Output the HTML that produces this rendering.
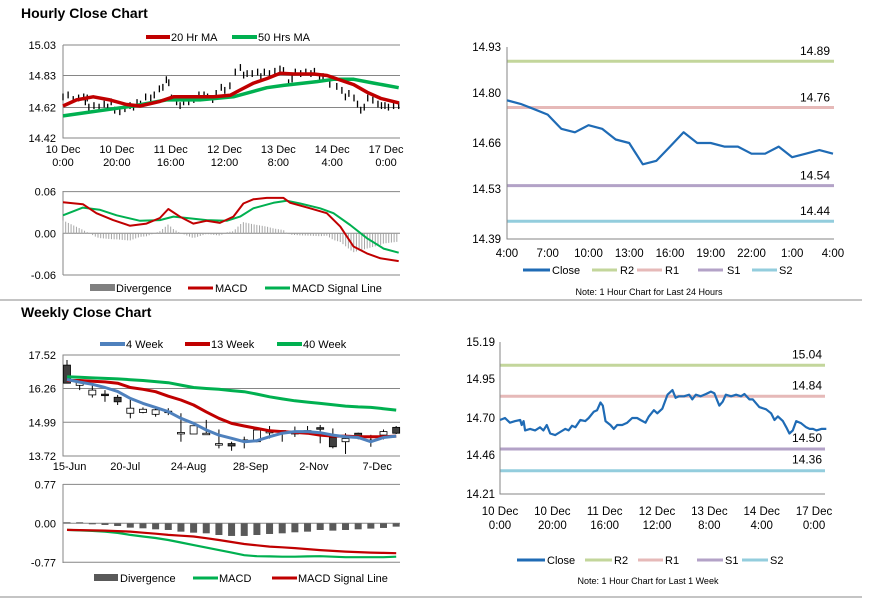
<!DOCTYPE html>
<html><head><meta charset="utf-8"><style>
html,body{margin:0;padding:0;background:#fff;}
svg{display:block;font-family:"Liberation Sans",Arial,sans-serif;}
</style></head><body>
<svg id="s" width="873" height="601" viewBox="0 0 873 601" xmlns="http://www.w3.org/2000/svg">
<rect x="0" y="0" width="873" height="601" fill="#fff"/>
<text x="21" y="18" font-size="14" font-weight="bold" fill="#000">Hourly Close Chart</text>
<text x="21" y="317" font-size="14" font-weight="bold" fill="#000">Weekly Close Chart</text>
<line x1="0" y1="300" x2="862" y2="300" stroke="#888" stroke-width="1"/>
<line x1="0" y1="597" x2="862" y2="597" stroke="#888" stroke-width="1"/>

<!-- TL legend -->
<g font-size="11">
<line x1="146" y1="37" x2="170" y2="37" stroke="#c00000" stroke-width="4"/>
<text x="171" y="41">20 Hr MA</text>
<line x1="232" y1="37" x2="257" y2="37" stroke="#00b050" stroke-width="4"/>
<text x="258" y="41">50 Hrs MA</text>
</g>
<g font-size="11">
<rect x="90" y="284" width="25" height="7" fill="#808080"/>
<text x="116" y="292">Divergence</text>
<line x1="188" y1="288" x2="213" y2="288" stroke="#c00000" stroke-width="3"/>
<text x="215" y="292">MACD</text>
<line x1="265" y1="288" x2="290" y2="288" stroke="#00b050" stroke-width="3"/>
<text x="292" y="292">MACD Signal Line</text>
</g>
<!-- BL legends -->
<g font-size="11">
<line x1="100" y1="344" x2="125" y2="344" stroke="#4f81bd" stroke-width="4"/>
<text x="126" y="348">4 Week</text>
<line x1="185" y1="344" x2="210" y2="344" stroke="#c00000" stroke-width="4"/>
<text x="211" y="348">13 Week</text>
<line x1="277" y1="344" x2="302" y2="344" stroke="#00b050" stroke-width="4"/>
<text x="303" y="348">40 Week</text>
</g>
<g font-size="11">
<rect x="94" y="574" width="24" height="7" fill="#595959"/>
<text x="120" y="582">Divergence</text>
<line x1="193" y1="578" x2="218" y2="578" stroke="#00b050" stroke-width="3"/>
<text x="219" y="582">MACD</text>
<line x1="272" y1="578" x2="297" y2="578" stroke="#c00000" stroke-width="3"/>
<text x="298" y="582">MACD Signal Line</text>
</g>
<!-- Right legends -->
<g font-size="11">
<line x1="523" y1="270" x2="550" y2="270" stroke="#1f6bb5" stroke-width="3"/>
<text x="552" y="274">Close</text>
<line x1="592" y1="270" x2="617" y2="270" stroke="#c3d69b" stroke-width="3"/>
<text x="620" y="274">R2</text>
<line x1="637" y1="270" x2="662" y2="270" stroke="#e6b9b8" stroke-width="3"/>
<text x="665" y="274">R1</text>
<line x1="698" y1="270" x2="723" y2="270" stroke="#b3a2c7" stroke-width="3"/>
<text x="727" y="274">S1</text>
<line x1="752" y1="270" x2="777" y2="270" stroke="#93cddd" stroke-width="3"/>
<text x="779" y="274">S2</text>
<text x="649" y="295" font-size="9" text-anchor="middle">Note: 1 Hour Chart for Last 24 Hours</text>
</g>
<g font-size="11">
<line x1="517" y1="560" x2="545" y2="560" stroke="#1f6bb5" stroke-width="3"/>
<text x="547" y="564">Close</text>
<line x1="585" y1="560" x2="612" y2="560" stroke="#c3d69b" stroke-width="3"/>
<text x="614" y="564">R2</text>
<line x1="638" y1="560" x2="663" y2="560" stroke="#e6b9b8" stroke-width="3"/>
<text x="665" y="564">R1</text>
<line x1="697" y1="560" x2="723" y2="560" stroke="#b3a2c7" stroke-width="3"/>
<text x="725" y="564">S1</text>
<line x1="742" y1="560" x2="768" y2="560" stroke="#93cddd" stroke-width="3"/>
<text x="770" y="564">S2</text>
<text x="648" y="584" font-size="9" text-anchor="middle">Note: 1 Hour Chart for Last 1 Week</text>
</g>
</svg>
<script>
// ---- shared hourly close (last week) ----
const weekHours = [0,1.9,3.8,5.8,7.7,8.3,9,9.6,11.5,13.4,15.3,16.6,17.9,19.2,21.1,23,24.9,26.2,27.5,28.8,30.7,32.6,33.9,35.8,37.1,38.4,39.3,40.3,42.2,43.5,44.8,46.7,48.6,50.5,52.4,53.7,55.6,56.9,58.8,60.1,62,64,65.9,67.1,68.4,70.3,72.3,73.5,74.8,76.7,78.7,80.6,81.9,83.8,85.1,86.3,88.3,90.2,92.1,93.4,95.3,96.6,99.1,101.7,103.6,104.9,106.2,108.1,109.4,110.6,111.9,113.2,115.1,117,118.3,119.6,120.9,122.8,124.7];
const weekClose = [14.687,14.70,14.67,14.68,14.687,14.655,14.68,14.62,14.63,14.62,14.64,14.62,14.655,14.60,14.59,14.61,14.63,14.62,14.65,14.64,14.687,14.68,14.70,14.74,14.75,14.80,14.78,14.68,14.655,14.63,14.655,14.655,14.67,14.70,14.70,14.687,14.67,14.71,14.75,14.73,14.76,14.85,14.88,14.83,14.84,14.84,14.85,14.82,14.85,14.84,14.855,14.87,14.86,14.78,14.805,14.85,14.84,14.85,14.84,14.855,14.82,14.82,14.77,14.756,14.73,14.687,14.71,14.68,14.64,14.60,14.62,14.68,14.666,14.64,14.63,14.63,14.62,14.63,14.63];
const hourTickHours = [0,20,40,60,80,100,120];
const hourTickLine1 = ["10 Dec","10 Dec","11 Dec","12 Dec","13 Dec","14 Dec","17 Dec"];
const hourTickLine2 = ["0:00","20:00","16:00","12:00","8:00","4:00","0:00"];
// MAs
const ma20Hours = [0,5,11.2,17.4,23.6,28.6,36,41,46,56,62.1,65.8,70.8,75.8,80.7,85.7,93.1,98.1,103.1,108,113,118,124.8];
const ma20Vals = [14.63,14.67,14.69,14.67,14.64,14.63,14.66,14.69,14.69,14.69,14.70,14.735,14.78,14.81,14.845,14.84,14.84,14.83,14.80,14.77,14.72,14.68,14.65];
const ma50Hours = [0,13.7,26.1,38.5,50.9,63.3,75.7,81.9,94.3,100.5,108,115.4,124.7];
const ma50Vals = [14.565,14.60,14.63,14.67,14.67,14.69,14.75,14.765,14.79,14.805,14.805,14.78,14.75];
const hPriceTicks = [15.03,14.83,14.62,14.42];
// hourly MACD
const hMacdHours = [0,7.4,12.4,18.6,24.8,31,36,39.1,43.4,48.4,53.3,58.3,63.3,67,70.7,75.7,81.9,84.4,91.8,98,103,107.9,112.9,117.9,124.7];
const hMacdVals = [0.0446,0.042,0.029,0.019,0.011,0.014,0.022,0.035,0.024,0.014,0.018,0.015,0.024,0.043,0.049,0.051,0.051,0.044,0.036,0.029,0.0096,-0.019,-0.029,-0.036,-0.040];
const hSigHours = [0,7.4,13.6,19.9,28.6,36,41,46,53.3,60.8,65.8,70.7,78.2,83.1,88.1,95.5,100.5,106.7,112.9,119.1,124.7];
const hSigVals = [0.026,0.037,0.034,0.026,0.018,0.019,0.024,0.022,0.019,0.018,0.024,0.036,0.044,0.047,0.043,0.036,0.029,0.012,-0.007,-0.022,-0.028];
const hMacdTicks = [0.06,0.00,-0.06];
// daily (last 24h)
const dayLabels = ["4:00","7:00","10:00","13:00","16:00","19:00","22:00","1:00","4:00"];
const dayClose = [14.78,14.77,14.755,14.74,14.70,14.69,14.71,14.70,14.67,14.66,14.60,14.61,14.65,14.69,14.66,14.66,14.65,14.65,14.63,14.63,14.65,14.62,14.63,14.64,14.63];
const dayTicks = [14.93,14.80,14.66,14.53,14.39];
const dayLevels = [14.89,14.76,14.54,14.44];
const weekLevels = [15.04,14.84,14.50,14.36];
const levelNames = ["r2","r1","s1","s2"];
const weekPriceTicks = [15.19,14.95,14.70,14.46,14.21];
// weekly candles
const wOpen  = [17.14,16.38,16.02,16.02,15.93,15.33,15.36,15.29,15.38,14.58,14.55,14.55,14.16,14.19,14.30,14.26,14.62,14.65,14.58,14.65,14.76,14.42,14.26,14.58,14.30,14.51,14.80];
const wClose = [16.46,16.48,16.20,16.00,15.76,15.52,15.48,15.46,15.33,14.58,14.86,14.55,14.16,14.10,14.30,14.70,14.62,14.65,14.58,14.65,14.70,14.07,14.38,14.45,14.30,14.64,14.58];
const wHigh  = [17.33,16.58,16.39,16.20,16.02,15.83,15.55,15.58,15.52,15.33,14.86,15.08,14.72,14.26,14.45,14.72,14.85,14.68,14.83,14.85,14.89,14.76,14.58,14.60,14.52,14.72,14.85];
const wLow   = [16.46,16.20,15.92,15.76,15.64,15.14,15.33,15.20,15.26,14.26,14.55,14.53,14.01,13.92,14.01,14.24,14.38,14.26,14.44,14.58,14.20,14.01,13.80,14.35,14.07,14.35,14.55];
const ma4w  = [16.6,16.5,16.42,16.3,16.15,15.89,15.7,15.55,15.39,15.14,14.95,14.7,14.51,14.39,14.26,14.3,14.45,14.58,14.64,14.64,14.6,14.51,14.45,14.42,14.26,14.42,14.47];
const ma13w = [16.56,16.56,16.53,16.51,16.46,16.3,16.23,16.14,15.97,15.83,15.64,15.38,15.14,14.95,14.85,14.76,14.67,14.64,14.61,14.58,14.51,14.47,14.47,14.45,14.45,14.45,14.47];
const ma40w = [16.7,16.68,16.66,16.64,16.62,16.59,16.56,16.52,16.48,16.39,16.3,16.26,16.23,16.18,16.14,16.05,15.95,15.87,15.8,15.75,15.7,15.65,15.6,15.57,15.55,15.5,15.45];
const weekLabels = ["15-Jun","20-Jul","24-Aug","28-Sep","2-Nov","7-Dec"];
const weekLabelIdx = [0.2,4.6,9.6,14.5,19.5,24.5];
const wPriceTicks = [17.52,16.26,14.99,13.72];
const wMacd = [-0.13,-0.14,-0.15,-0.165,-0.19,-0.23,-0.26,-0.29,-0.33,-0.38,-0.43,-0.48,-0.53,-0.58,-0.63,-0.65,-0.655,-0.66,-0.66,-0.655,-0.65,-0.66,-0.67,-0.67,-0.67,-0.67,-0.66];
const wSignal = [-0.13,-0.135,-0.14,-0.145,-0.155,-0.165,-0.185,-0.205,-0.23,-0.245,-0.26,-0.295,-0.33,-0.37,-0.41,-0.435,-0.46,-0.475,-0.49,-0.51,-0.53,-0.545,-0.56,-0.57,-0.58,-0.585,-0.59];
const wDiv = [0.02,0.02,-0.013,-0.033,-0.053,-0.086,-0.099,-0.119,-0.132,-0.165,-0.185,-0.198,-0.231,-0.25,-0.25,-0.231,-0.211,-0.198,-0.178,-0.165,-0.132,-0.145,-0.132,-0.119,-0.105,-0.092,-0.066];
const wMacdTicks = [0.77,0.00,-0.77];

const NS='http://www.w3.org/2000/svg';
const svg=document.getElementById('s');
function mk(tag,attrs){const e=document.createElementNS(NS,tag);for(const k in attrs)e.setAttribute(k,attrs[k]);svg.appendChild(e);return e;}
function txt(x,y,s,anchor,size){const e=mk('text',{x:x,y:y,'font-size':size||11,'text-anchor':anchor||'start',fill:'#000'});e.textContent=s;return e;}
function path(xs,ys){return xs.map((x,i)=>(i?'L':'M')+x.toFixed(1)+','+ys[i].toFixed(1)).join('');}
function interp(hs,vs,h){if(h<=hs[0])return vs[0];for(let i=1;i<hs.length;i++){if(h<=hs[i]){const t=(h-hs[i-1])/(hs[i]-hs[i-1]);return vs[i-1]+t*(vs[i]-vs[i-1]);}}return vs[vs.length-1];}

// ===== Top-left hourly price =====
const tlX=h=>63+h*2.692, tlY=v=>45+(15.03-v)*152.5;
hPriceTicks.forEach(t=>{
  if(t!==hPriceTicks[hPriceTicks.length-1]){const g=mk('line',{x1:63,x2:400,y1:tlY(t),y2:tlY(t),stroke:'#868686','stroke-width':1});
  
  }
  const l=txt(56,tlY(t)+4,t.toFixed(2),'end');
  
  
});
{const a=mk('path',{d:'M63,45V138H400',fill:'none',stroke:'#868686'});

}
hourTickHours.forEach((h,i)=>{
  const a=txt(tlX(h),153,hourTickLine1[i],'middle');
  
  
  const b=txt(tlX(h),166,hourTickLine2[i],'middle');
  
  
});
weekHours.forEach((h,i)=>{
  const v=weekClose[i];
  const s=mk('line',{x1:tlX(h),x2:tlX(h),y1:tlY(v+0.025),y2:tlY(v-0.02),stroke:'#000','stroke-width':1.3});
  
  
});
{const p=mk('path',{d:path(ma50Hours.map(tlX),ma50Vals.map(tlY)),fill:'none',stroke:'#00b050','stroke-width':3.5,'stroke-linejoin':'round'});

}
{const p=mk('path',{d:path(ma20Hours.map(tlX),ma20Vals.map(tlY)),fill:'none',stroke:'#c00000','stroke-width':3.5,'stroke-linejoin':'round'});

}

// ===== Top-left hourly MACD =====
const tmY=v=>233.3-v*694;
hMacdTicks.forEach(t=>{
  const g=mk('line',{x1:63,x2:400,y1:tmY(t),y2:tmY(t),stroke:'#868686','stroke-width':1});
  
  
  const l=txt(56,tmY(t)+4,t.toFixed(2),'end');
  
  
});
{const a=mk('line',{x1:63,x2:63,y1:191,y2:275,stroke:'#868686'});

}
for(let h=0;h<=124.5;h+=1){
  const d=interp(hMacdHours,hMacdVals,h)-interp(hSigHours,hSigVals,h);
  const b=mk('line',{x1:tlX(h),x2:tlX(h),y1:tmY(0),y2:tmY(d),stroke:'#a6a6a6','stroke-width':1});
  
  
}
{const p=mk('path',{d:path(hSigHours.map(tlX),hSigVals.map(tmY)),fill:'none',stroke:'#00b050','stroke-width':2,'stroke-linejoin':'round'});

}
{const p=mk('path',{d:path(hMacdHours.map(tlX),hMacdVals.map(tmY)),fill:'none',stroke:'#c00000','stroke-width':2,'stroke-linejoin':'round'});

}

// ===== Level line charts (right) =====
const levelColors=['#c3d69b','#e6b9b8','#b3a2c7','#93cddd'];
// top-right
const trX=i=>507+i*13.583, trY=v=>47+(14.93-v)*355.6;
dayTicks.forEach(t=>{
  const l=txt(501,trY(t)+4,t.toFixed(2),'end',11.5);
  
  
});
dayLabels.forEach((s,i)=>{
  const l=txt(trX(i*3),257,s,'middle',11.5);
  
  
});
dayLevels.forEach((v,i)=>{
  const ln=mk('line',{x1:507,x2:834,y1:trY(v),y2:trY(v),stroke:levelColors[i],'stroke-width':3});
  
  
  const l=txt(830,trY(v)-6,v.toFixed(2),'end',12);
  
  
});
{const a=mk('path',{d:'M507,47V239H834',fill:'none',stroke:'#868686'});

}
{const p=mk('path',{d:path(dayClose.map((v,i)=>trX(i)),dayClose.map(trY)),fill:'none',stroke:'#1f6bb5','stroke-width':2.2,'stroke-linejoin':'round'});

}

// bottom-right
const brX=h=>500+h*2.617, brY=v=>342+(15.19-v)*155.1;
weekPriceTicks.forEach(t=>{
  const l=txt(495,brY(t)+4,t.toFixed(2),'end',11.5);
  
  
});
hourTickHours.forEach((h,i)=>{
  const a=txt(brX(h),515,hourTickLine1[i],'middle',11.5);
  
  
  const b=txt(brX(h),529,hourTickLine2[i],'middle',11.5);
  
  
});
weekLevels.forEach((v,i)=>{
  const ln=mk('line',{x1:500,x2:825,y1:brY(v),y2:brY(v),stroke:levelColors[i],'stroke-width':3});
  
  
  const l=txt(822,brY(v)-7,v.toFixed(2),'end',12);
  
  
});
{const a=mk('path',{d:'M500,342V494H825',fill:'none',stroke:'#868686'});

}
{const p=mk('path',{d:path(weekHours.map(brX),weekClose.map(brY)),fill:'none',stroke:'#1f6bb5','stroke-width':2.2,'stroke-linejoin':'round'});

}

// ===== Bottom-left weekly =====
const blX=i=>67+i*12.66, blY=v=>355+(17.52-v)*26.6;
wPriceTicks.forEach((t,k)=>{
  if(k>0&&k<wPriceTicks.length-1){const g=mk('line',{x1:63,x2:400,y1:blY(t),y2:blY(t),stroke:'#868686','stroke-width':1});
  
  }
  const l=txt(56,blY(t)+4,t.toFixed(2),'end');
  
  
});
{const a=mk('path',{d:'M400,355H63V456H400',fill:'none',stroke:'#868686'});

}
weekLabels.forEach((s,i)=>{
  const l=txt(blX(weekLabelIdx[i]),470,s,'middle');
  
  
});
wOpen.forEach((o,i)=>{
  const c=wClose[i],x=blX(i);
  const w=mk('line',{x1:x,x2:x,y1:blY(wHigh[i]),y2:blY(wLow[i]),stroke:'#000','stroke-width':1});
  
  
  const top=blY(Math.max(o,c)),h=Math.max(1.5,Math.abs(blY(o)-blY(c)));
  const r=mk('rect',{x:x-3.5,y:top-(h<2?0.75:0),width:7,height:h,fill:c<o?'#404040':'#fff',stroke:'#000','stroke-width':0.8});
  
  
});
[[ma40w,'#00b050','ma-40wk-line'],[ma13w,'#c00000','ma-13wk-line'],[ma4w,'#4f81bd','ma-4wk-line']].forEach(([arr,col,nm])=>{
  const p=mk('path',{d:path(arr.map((v,i)=>blX(i)),arr.map(blY)),fill:'none',stroke:col,'stroke-width':3,'stroke-linejoin':'round'});
  
  
});
// weekly MACD
const bmY=v=>523.3-v*50.6;
wMacdTicks.forEach(t=>{
  const g=mk('line',{x1:63,x2:400,y1:bmY(t),y2:bmY(t),stroke:'#868686','stroke-width':1});
  
  
  const l=txt(56,bmY(t)+4,t.toFixed(2),'end');
  
  
});
{const a=mk('line',{x1:63,x2:63,y1:484,y2:563,stroke:'#868686'});

}
wDiv.forEach((d,i)=>{
  const y0=bmY(0),y1=bmY(d);
  const r=mk('rect',{x:blX(i)-3.5,y:Math.min(y0,y1),width:7,height:Math.max(1,Math.abs(y1-y0)),fill:'#595959'});
  
  
});
{const p=mk('path',{d:path(wMacd.map((v,i)=>blX(i)),wMacd.map(bmY)),fill:'none',stroke:'#00b050','stroke-width':2.2});

}
{const p=mk('path',{d:path(wSignal.map((v,i)=>blX(i)),wSignal.map(bmY)),fill:'none',stroke:'#c00000','stroke-width':2.2});

}
</script>
</body></html>
